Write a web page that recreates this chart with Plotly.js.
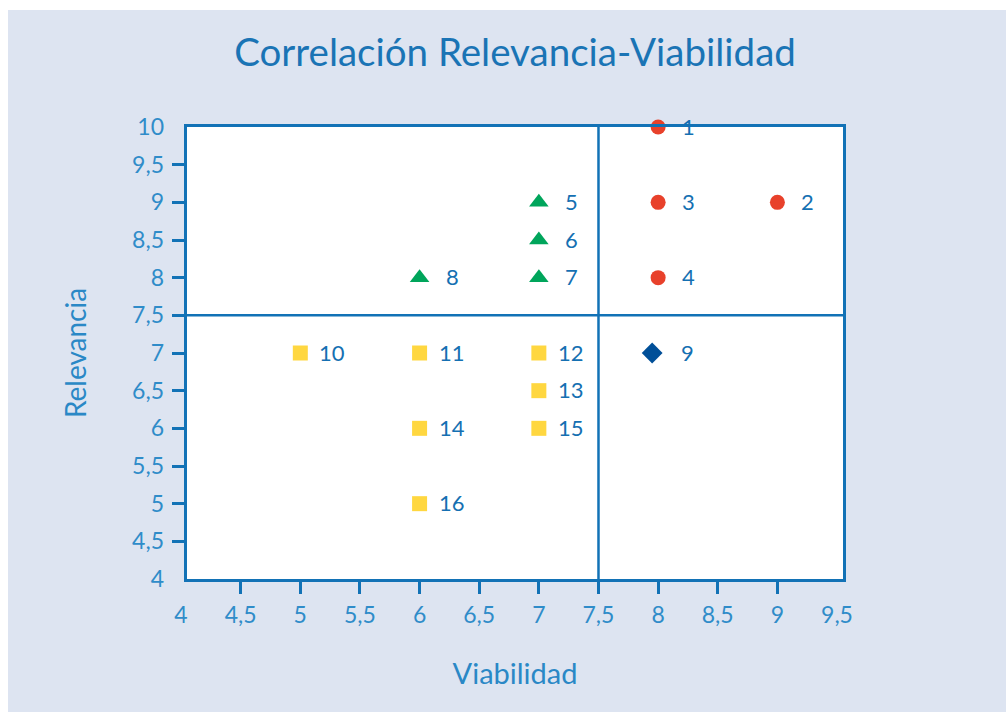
<!DOCTYPE html>
<html>
<head>
<meta charset="utf-8">
<script src="https://cdn.plot.ly/plotly-3.0.1.min.js"></script>
<style>
  html, body { margin: 0; padding: 0; background: #ffffff; }
  #chart { position: absolute; left: 8px; top: 10px; width: 998px; height: 702px; }
</style>
</head>
<body>
<div id="chart"></div>
<script>
// ---- Data ----
const circleX = [8, 9, 8, 8];
const circleY = [10, 9, 9, 8];
const circleLabels = ['1', '2', '3', '4'];

const triangleX = [7, 7, 7, 6];
const triangleY = [9, 8.5, 8, 8];
const triangleLabels = ['5', '6', '7', '8'];

const diamondX = [7.95];
const diamondY = [7];
const diamondLabels = ['9'];

const squareX = [5, 6, 7, 7, 6, 7, 6];
const squareY = [7, 7, 7, 6.5, 6, 6, 5];
const squareLabels = ['10', '11', '12', '13', '14', '15', '16'];

const xTickVals = [4, 4.5, 5, 5.5, 6, 6.5, 7, 7.5, 8, 8.5, 9, 9.5];
const xTickText = ['4', '4,5', '5', '5,5', '6', '6,5', '7', '7,5', '8', '8,5', '9', '9,5'];
const xTickMarks = [4.5, 5, 5.5, 6, 6.5, 7, 7.5, 8, 8.5, 9];
const yTickVals = [4, 4.5, 5, 5.5, 6, 6.5, 7, 7.5, 8, 8.5, 9, 9.5, 10];
const yTickText = ['4', '4,5', '5', '5,5', '6', '6,5', '7', '7,5', '8', '8,5', '9', '9,5', '10'];
const yTickMarks = [4.5, 5, 5.5, 6, 6.5, 7, 7.5, 8, 8.5, 9, 9.5];
const quadrantSplitX = 7.5;
const quadrantSplitY = 7.5;

// ---- Style ----
const BLUE = '#1272b6';
const LABEL_BLUE = '#2f8cc9';
const FONT = 'Lato, "Open Sans", sans-serif';

function series(x, y, symbol, color, size) {
  return {
    type: 'scatter', mode: 'markers', x: x, y: y,
    xaxis: 'x', yaxis: 'y',
    marker: { symbol: symbol, color: color, size: size, line: { width: 0 } },
    hoverinfo: 'x+y', showlegend: false, cliponaxis: false
  };
}

const traces = [
  series(circleX, circleY, 'circle', '#e8412b', 15),
  series(triangleX, triangleY, 'triangle-up', '#00a55b', 17),
  series(diamondX, diamondY, 'diamond', '#004f98', 16),
  series(squareX, squareY, 'square', '#ffd740', 15),
  { type: 'scatter', x: [], y: [], xaxis: 'x2', yaxis: 'y2', showlegend: false, hoverinfo: 'skip' }
];

function labelAnnotations(xs, ys, labels, shift) {
  return labels.map((t, i) => ({
    x: xs[i], y: ys[i], xref: 'x', yref: 'y', text: t, showarrow: false,
    xanchor: 'left', yanchor: 'middle', xshift: shift, yshift: 1,
    font: { family: FONT, size: 22, color: '#1570b2' }
  }));
}

const annotations = [].concat(
  labelAnnotations(circleX, circleY, circleLabels, 22),
  labelAnnotations(triangleX, triangleY, triangleLabels, 24),
  labelAnnotations(diamondX, diamondY, diamondLabels, 27),
  labelAnnotations(squareX, squareY, squareLabels, 17)
);

const layout = {
  width: 998, height: 702,
  paper_bgcolor: '#dde4f1',
  plot_bgcolor: '#ffffff',
  margin: { l: 179, r: 163, t: 117, b: 133, pad: 0 },
  showlegend: false,
  title: {
    text: 'Correlación Relevancia-Viabilidad',
    font: { family: FONT, size: 38.5, color: '#1a74b5' },
    x: 0.5, xref: 'paper', xanchor: 'center',
    y: 0.940, yref: 'container', yanchor: 'middle'
  },
  // data axis: carries the marks, the frame and the tick marks
  xaxis: {
    range: [4.05, 9.55], fixedrange: true,
    tickvals: xTickMarks, ticks: 'outside', ticklen: 12, tickwidth: 3, tickcolor: BLUE,
    showticklabels: false,
    showline: true, mirror: true, linecolor: BLUE, linewidth: 3,
    showgrid: false, zeroline: false
  },
  yaxis: {
    range: [4, 10], fixedrange: true,
    tickvals: yTickMarks, ticks: 'outside', ticklen: 12, tickwidth: 3, tickcolor: BLUE,
    showticklabels: false,
    showline: true, mirror: true, linecolor: BLUE, linewidth: 3,
    showgrid: false, zeroline: false
  },
  // label axes: same scale, carry tick labels and titles
  xaxis2: {
    overlaying: 'x', anchor: 'y', side: 'bottom', range: [4, 9.5], fixedrange: true,
    tickvals: xTickVals, ticktext: xTickText, ticks: '',
    ticklabelstandoff: 20, ticklabelshift: -6,
    tickfont: { family: FONT, size: 23, color: LABEL_BLUE },
    showline: false, showgrid: false, zeroline: false,
    title: { text: 'Viabilidad', font: { family: FONT, size: 29, color: '#2a88c6' }, standoff: 36 }
  },
  yaxis2: {
    overlaying: 'y', anchor: 'x', side: 'left', range: [4, 10], fixedrange: true,
    tickvals: yTickVals, ticktext: yTickText, ticks: '',
    ticklabelstandoff: 22,
    tickfont: { family: FONT, size: 23, color: LABEL_BLUE },
    showline: false, showgrid: false, zeroline: false,
    title: { text: 'Relevancia', font: { family: FONT, size: 28, color: '#2a88c6' }, standoff: 37 }
  },
  shapes: [
    { type: 'line', xref: 'x', yref: 'y domain', x0: quadrantSplitX, x1: quadrantSplitX, y0: 0, y1: 1,
      line: { color: BLUE, width: 2.5 }, layer: 'below' },
    { type: 'line', xref: 'x domain', yref: 'y', x0: 0, x1: 1, y0: quadrantSplitY, y1: quadrantSplitY,
      line: { color: BLUE, width: 2.5 }, layer: 'below' }
  ],
  annotations: annotations
};

Plotly.newPlot('chart', traces, layout, { displayModeBar: false, staticPlot: true });
</script>
</body>
</html>
